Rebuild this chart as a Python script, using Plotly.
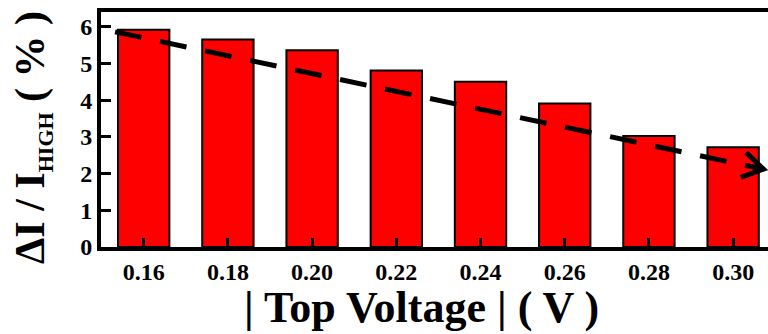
import math
import plotly.graph_objects as go

# Bar data: relative current change vs. top-gate voltage magnitude
voltages = ["0.16", "0.18", "0.20", "0.22", "0.24", "0.26", "0.28", "0.30"]
delta_pct = [5.92, 5.65, 5.36, 4.81, 4.50, 3.91, 3.02, 2.72]
y_ticks = [0, 1, 2, 3, 4, 5, 6]

# Trend arrow endpoints (category index, percent)
trend_x = [-0.34, 7.36]
trend_y = [5.86, 2.12]

W, H = 768, 334
M_L, M_R, M_T, M_B = 101, 0, 12, 87
X_RANGE = [-0.507, 7.414]
Y_RANGE = [0, 6.4]

FONT = "Liberation Serif"
idx = list(range(len(voltages)))

fig = go.Figure()
fig.add_trace(go.Bar(
    x=idx, y=delta_pct, width=0.61,
    marker=dict(color="#FF0000", line=dict(color="black", width=2)),
    showlegend=False,
))
fig.add_trace(go.Scatter(
    x=trend_x, y=trend_y, mode="lines",
    line=dict(color="black", width=5, dash="27px,19px"),
    showlegend=False, cliponaxis=False,
))

# Open chevron head at the end of the trend line, built in pixel offsets
px_x = (W - M_L - M_R) / (X_RANGE[1] - X_RANGE[0])
px_y = (H - M_T - M_B) / (Y_RANGE[1] - Y_RANGE[0])
dx = (trend_x[1] - trend_x[0]) * px_x
dy = (trend_y[1] - trend_y[0]) * px_y
n = math.hypot(dx, dy)
bx, by = -dx / n, -dy / n
head_len, head_ang = 24, math.radians(32)
pts = []
for s in (1, -1):
    c, si = math.cos(s * head_ang), math.sin(s * head_ang)
    pts.append((head_len * (bx * c - by * si), head_len * (bx * si + by * c)))
fig.add_shape(
    type="path", xref="x", yref="y",
    xsizemode="pixel", ysizemode="pixel",
    xanchor=trend_x[1], yanchor=trend_y[1],
    path=f"M{pts[0][0]:.2f},{pts[0][1]:.2f} L0,0 L{pts[1][0]:.2f},{pts[1][1]:.2f}",
    line=dict(color="black", width=5),
    layer="above",
)

tick_font = dict(family=FONT, size=24, color="black", weight="bold")
fig.update_xaxes(
    range=X_RANGE, tickmode="array", tickvals=idx, ticktext=voltages,
    showline=True, linecolor="black", linewidth=4, mirror=True,
    ticks="inside", ticklen=9, tickwidth=3, tickcolor="black",
    tickfont=tick_font, showgrid=False, zeroline=False,
)
fig.update_yaxes(
    range=Y_RANGE, tickmode="array", tickvals=y_ticks,
    showline=True, linecolor="black", linewidth=4, mirror=False,
    ticks="inside", ticklen=10, tickwidth=3, tickcolor="black",
    tickfont=tick_font, showgrid=False, zeroline=False,
)

fig.add_annotation(
    text="| Top Voltage | ( V )", xref="paper", yref="paper",
    x=(421 - M_L) / (W - M_L - M_R), y=-(307 - (H - M_B)) / (H - M_T - M_B),
    xanchor="center", yanchor="middle", showarrow=False,
    font=dict(family=FONT, size=44, color="black", weight="bold"),
)
fig.add_annotation(
    text='ΔI / I<sub><span style="font-size:22px">HIGH</span></sub> ( % )',
    xref="paper", yref="paper",
    x=(32 - M_L) / (W - M_L - M_R), y=((H - M_B) - 138) / (H - M_T - M_B),
    xanchor="center", yanchor="middle", textangle=-90, showarrow=False,
    font=dict(family=FONT, size=42, color="black", weight="bold"),
)

fig.update_layout(
    width=W, height=H,
    margin=dict(l=M_L, r=M_R, t=M_T, b=M_B, pad=0),
    plot_bgcolor="white", paper_bgcolor="white",
    bargap=0.39,
)
fig.write_html("out.html")
